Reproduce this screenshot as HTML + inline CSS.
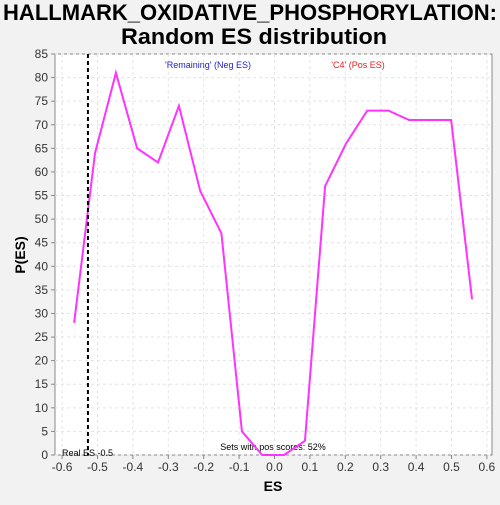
<!DOCTYPE html>
<html><head><meta charset="utf-8"><style>
body{margin:0;background:#f2f2f2;font-family:"Liberation Sans",sans-serif;}
</style></head><body>
<svg width="500" height="500" xmlns="http://www.w3.org/2000/svg">
<rect x="0" y="0" width="500" height="500" fill="#f2f2f2"/>
<text x="250" y="20" text-anchor="middle" font-size="22" font-weight="bold" textLength="494" lengthAdjust="spacingAndGlyphs">HALLMARK_OXIDATIVE_PHOSPHORYLATION:</text>
<text x="254" y="44" text-anchor="middle" font-size="22" font-weight="bold" textLength="266" lengthAdjust="spacingAndGlyphs">Random ES distribution</text>
<rect x="55" y="54" width="437" height="401" fill="#fff" stroke="#888"/>
<g id="grid"></g><g id="axes"></g>
<text x="208" y="68" text-anchor="middle" font-size="9" fill="#2222cc">'Remaining' (Neg ES)</text>
<text x="358" y="68" text-anchor="middle" font-size="9" fill="#dd2222">'C4' (Pos ES)</text>
<text x="273" y="450" text-anchor="middle" font-size="9">Sets with pos scores: 52%</text>
<text x="62" y="456" font-size="9">Real ES -0.5</text>
<text x="273" y="491" text-anchor="middle" font-size="14" font-weight="bold">ES</text>
<text x="25" y="255" text-anchor="middle" font-size="14" font-weight="bold" transform="rotate(-90 25 255)">P(ES)</text>
<g id="series"></g>
</svg>
<script>
const esValues=[-0.566,-0.507,-0.448,-0.388,-0.329,-0.27,-0.21,-0.15,-0.092,-0.035,0.027,0.086,0.143,0.202,0.262,0.322,0.38,0.44,0.499,0.558];
const pValues=[28,64,81,65,62,74,56,47,5,0,0,3,57,66,73,73,71,71,71,33];
const xTicks=[-0.6,-0.5,-0.4,-0.3,-0.2,-0.1,0,0.1,0.2,0.3,0.4,0.5,0.6];
const yTicks=[0,5,10,15,20,25,30,35,40,45,50,55,60,65,70,75,80,85];
const realES=[-0.527];
const NS="http://www.w3.org/2000/svg";
const xs=v=>274.5+v*354, ys=v=>455-v*(401/85);
function mk(t,a,p){const e=document.createElementNS(NS,t);for(const k in a)e.setAttribute(k,a[k]);p.appendChild(e);return e;}
const g=document.getElementById('grid'),ax=document.getElementById('axes'),s=document.getElementById('series');
xTicks.forEach(v=>{const x=xs(v);
const l=mk('line',{x1:x,x2:x,y1:54,y2:455,stroke:'#e4e4e4','stroke-dasharray':'3,3'},g);

const tk=mk('line',{x1:x,x2:x,y1:455,y2:459,stroke:'#888'},ax);

const t=mk('text',{x:x,y:471,'text-anchor':'middle','font-size':'12',fill:'#333'},ax);t.textContent=(v===0?'0.0':v.toFixed(1));
});
yTicks.forEach(v=>{const y=ys(v);
const l=mk('line',{x1:55,x2:492,y1:y,y2:y,stroke:'#e4e4e4','stroke-dasharray':'3,3'},g);

const tk=mk('line',{x1:51,x2:55,y1:y,y2:y,stroke:'#888'},ax);

const t=mk('text',{x:48,y:y+4,'text-anchor':'end','font-size':'12',fill:'#333'},ax);t.textContent=v;
});
const pts=esValues.map((v,i)=>xs(v)+','+ys(pValues[i])).join(' ');
const pl=mk('polyline',{points:pts,fill:'none',stroke:'#ff33ff','stroke-width':'2'},s);

const rl=mk('line',{x1:xs(realES[0]),x2:xs(realES[0]),y1:54,y2:455,stroke:'#000','stroke-width':'2','stroke-dasharray':'4,3'},s);

</script>
</body></html>
